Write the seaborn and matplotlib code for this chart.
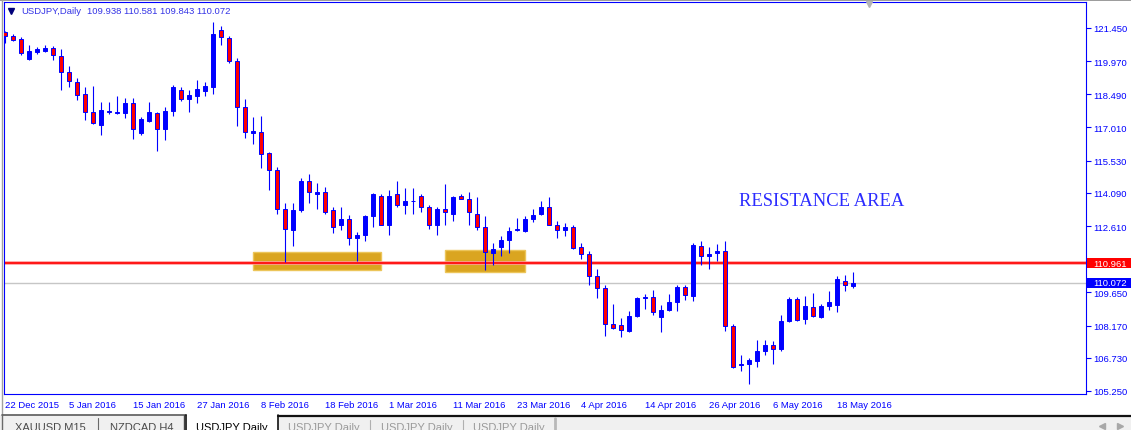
"""USDJPY daily candles, MT4 style, with resistance zone."""

import matplotlib
matplotlib.use("Agg")
import matplotlib.pyplot as plt
import matplotlib.transforms as mtransforms
from matplotlib.patches import Rectangle
import numpy as np
import pandas as pd
import seaborn as sns

# --- data ----------------------------------------------------------------
opens = [121.27, 121.09, 120.96, 120.07, 120.38, 120.43, 120.56, 120.20, 119.49, 119.05,
         118.51, 117.71, 117.13, 117.76, 117.67, 117.67, 118.11, 116.78, 117.31, 117.67,
         116.96, 117.76, 118.69, 118.29, 118.42, 118.65, 118.82, 121.36, 121.00, 119.98,
         117.93, 116.78, 116.81, 115.89, 115.13, 113.35, 112.42, 113.31, 114.60, 114.06,
         114.15, 113.31, 112.64, 112.91, 112.10, 112.19, 113.04, 113.97, 112.68, 114.02,
         113.53, 113.71, 113.97, 113.48, 112.64, 113.35, 113.17, 113.97, 113.84, 113.13,
         112.55, 111.39, 111.66, 111.97, 112.42, 112.37, 112.91, 113.17, 113.48, 112.68,
         112.42, 112.59, 111.66, 111.35, 110.37, 109.84, 108.23, 108.19, 107.92, 108.59,
         109.39, 109.43, 108.54, 108.86, 109.21, 109.88, 109.48, 111.70, 111.26, 111.39,
         111.48, 108.14, 106.41, 106.45, 106.59, 107.03, 107.30, 107.12, 108.37, 109.35,
         108.46, 108.99, 108.54, 109.03, 109.08, 110.15, 109.938]
highs = [121.32, 121.18, 121.05, 120.69, 120.60, 120.69, 120.65, 120.52, 119.76, 119.22,
         118.82, 118.87, 118.16, 118.16, 118.42, 118.33, 118.33, 117.49, 118.16, 117.71,
         117.93, 118.91, 118.82, 118.69, 119.13, 119.05, 121.72, 121.54, 121.09, 120.11,
         118.29, 117.49, 117.53, 115.93, 115.26, 113.66, 113.62, 114.77, 114.95, 114.55,
         114.37, 113.44, 113.44, 113.09, 112.33, 113.09, 114.10, 114.06, 114.20, 114.64,
         114.33, 114.33, 114.02, 113.53, 113.48, 114.51, 113.93, 114.06, 114.15, 113.89,
         113.04, 111.84, 112.15, 112.55, 112.95, 113.04, 113.35, 113.75, 113.89, 112.82,
         112.73, 112.64, 111.84, 111.48, 110.68, 109.97, 109.12, 108.50, 108.81, 109.43,
         109.57, 109.75, 109.08, 109.57, 109.97, 109.97, 111.84, 111.93, 111.66, 111.79,
         111.93, 108.23, 106.85, 106.72, 107.52, 107.52, 107.48, 108.63, 109.43, 109.43,
         109.48, 109.61, 109.12, 109.70, 110.37, 110.41, 110.581]
lows = [120.78, 120.87, 120.25, 120.03, 120.29, 120.38, 120.03, 118.69, 118.82, 118.25,
        117.36, 117.18, 116.69, 117.62, 117.62, 117.45, 116.51, 116.69, 117.27, 115.98,
        116.47, 117.53, 118.20, 117.71, 118.11, 118.42, 118.51, 120.69, 119.89, 117.09,
        116.55, 116.29, 115.18, 114.24, 113.13, 110.99, 111.70, 113.26, 113.62, 113.39,
        113.17, 112.28, 112.42, 111.75, 111.04, 111.93, 112.59, 112.64, 112.19, 113.48,
        113.17, 113.17, 113.26, 112.46, 112.19, 112.64, 112.82, 113.80, 112.64, 112.42,
        110.64, 110.86, 111.26, 111.39, 112.37, 112.33, 112.77, 113.09, 112.64, 112.06,
        112.15, 111.57, 111.13, 109.97, 109.39, 107.70, 108.02, 107.66, 107.88, 108.54,
        108.90, 108.63, 107.88, 108.81, 108.81, 109.30, 109.26, 110.86, 110.68, 111.04,
        107.92, 106.27, 106.14, 105.56, 106.32, 106.85, 106.45, 107.03, 108.32, 108.37,
        108.23, 108.54, 108.50, 108.86, 108.77, 109.70, 109.843]
closes = [121.09, 120.92, 120.34, 120.43, 120.52, 120.56, 120.25, 119.49, 119.09, 118.47,
          117.71, 117.22, 117.80, 117.71, 117.71, 118.11, 116.96, 117.40, 117.71, 116.96,
          117.76, 118.82, 118.29, 118.47, 118.74, 118.87, 121.18, 121.05, 119.98, 117.93,
          116.81, 116.87, 115.84, 115.13, 113.35, 112.46, 113.31, 114.64, 114.11, 114.15,
          113.26, 112.59, 112.91, 112.10, 112.19, 113.04, 114.06, 112.68, 113.97, 113.53,
          113.75, 113.75, 113.44, 112.64, 113.35, 113.22, 113.89, 113.84, 113.22, 112.55,
          111.44, 111.57, 111.97, 112.37, 112.46, 112.91, 113.09, 113.44, 112.68, 112.42,
          112.59, 111.61, 111.35, 110.37, 109.84, 108.23, 108.06, 107.97, 108.59, 109.39,
          109.43, 108.77, 108.86, 109.21, 109.88, 109.52, 111.75, 111.26, 111.35, 111.48,
          108.14, 106.32, 106.45, 106.63, 107.03, 107.30, 107.12, 108.37, 109.35, 108.41,
          109.03, 108.59, 109.03, 109.21, 110.24, 109.97, 110.072]

date_labels = ["22 Dec 2015", "5 Jan 2016", "15 Jan 2016", "27 Jan 2016", "8 Feb 2016",
               "18 Feb 2016", "1 Mar 2016", "11 Mar 2016", "23 Mar 2016", "4 Apr 2016",
               "14 Apr 2016", "26 Apr 2016", "6 May 2016", "18 May 2016"]
date_bars = [0, 8, 16, 24, 32, 40, 48, 56, 64, 72, 80, 88, 96, 104]

price_ticks = [121.450, 119.970, 118.490, 117.010, 115.530, 114.090, 112.610,
               111.130, 109.650, 108.170, 106.730, 105.250]

resistance_level = 110.961
last_price = 110.072
zone_bars = [(31, 47), (55, 65)]
zone_prices = [(110.65, 111.45), (110.56, 111.54)]
header_ohlc = [109.938, 110.581, 109.843, 110.072]
tab_names = ["XAUUSD M15", "NZDCAD H4", "USDJPY Daily",
             "USDJPY Daily", "USDJPY Daily", "USDJPY Daily"]

# --- style -----------------------------------------------------------------
BLUE = "#0000ff"
RED = "#ff0000"
sns.set_theme(style="white")
plt.rcParams["font.family"] = ["Liberation Sans", "DejaVu Sans"]

W, H = 1131, 431
fig = plt.figure(figsize=(W / 100, H / 100), dpi=100)
fig.patch.set_facecolor("white")
ax = fig.add_axes([4 / W, 36 / H, 1082 / W, 392 / H])
ax.set_facecolor("white")

df = pd.DataFrame({"open": opens, "high": highs, "low": lows, "close": closes})
df["bar"] = np.arange(len(df))
up = (df["close"] >= df["open"]).to_numpy()

# zones behind everything
for (b0, b1), (p0, p1) in zip(zone_bars, zone_prices):
    ax.add_patch(Rectangle((b0, p0), b1 - b0, p1 - p0, facecolor="#daa520",
                           edgecolor="#ecc55a", lw=1.0, zorder=2))

ax.axhline(last_price, color="#c6c6c6", lw=1.0, zorder=2.2)
ax.axhline(resistance_level, color="#ff9a9a", lw=2.6, zorder=2.4)
ax.axhline(resistance_level, color=RED, lw=1.2, zorder=2.5)

# candles
ax.vlines(df["bar"], df["low"], df["high"], color=BLUE, lw=0.8, zorder=3)
body_lo = df[["open", "close"]].min(axis=1)
body_h = (df["close"] - df["open"]).abs().clip(lower=0.04)
ax.bar(df["bar"], body_h, bottom=body_lo, width=0.6,
       color=np.where(up, BLUE, RED), edgecolor=BLUE, linewidth=0.7, zorder=4)

ax.text(102.1, 113.77, "RESISTANCE AREA", family="Liberation Serif", fontsize=13.4,
        color="#2b2bff", ha="center", va="center", zorder=6)

ax.set_xlim(-0.125, 135.125)
ax.set_ylim(105.116, 122.61)

for s in ax.spines.values():
    s.set_color(BLUE)
    s.set_linewidth(0.8)

ax.yaxis.tick_right()
ax.set_yticks(price_ticks)
ax.set_yticklabels([f"{p:.3f}" for p in price_ticks])
ax.tick_params(axis="y", direction="out", length=3.5, width=0.8, color=BLUE,
               labelcolor=BLUE, labelsize=6.8, pad=1.5)
ax.set_xticks(date_bars)
ax.set_xticklabels(date_labels, ha="left")
ax.tick_params(axis="x", direction="out", length=2.5, width=0.8, color=BLUE,
               labelcolor=BLUE, labelsize=6.8, pad=1.5)
ax.grid(False)

# price flags on the right scale
blend = mtransforms.blended_transform_factory(ax.transAxes, ax.transData)
for price, col in [(resistance_level, RED), (last_price, BLUE)]:
    ax.add_patch(Rectangle((1083 / 1082, price - 0.235), 46 / 1082, 0.47,
                           transform=blend, facecolor=col, edgecolor="none",
                           clip_on=False, zorder=7))
    ax.text(1089 / 1082, price, f"{price:.3f}", transform=blend, color="white",
            fontsize=6.8, ha="left", va="center", clip_on=False, zorder=8)

# --- window chrome, in pixel coordinates -------------------------------------
ov = fig.add_axes([0, 0, 1, 1], zorder=1)
ov.set_xlim(0, W)
ov.set_ylim(H, 0)
ov.axis("off")
ov.patch.set_visible(False)

ov.plot([0, W], [0.5, 0.5], color="#8a8a8a", lw=1.2)
ov.plot([1.5, 1.5], [0, 416], color="#a0a0a0", lw=1.0)

ov.plot([11], [11.5], marker="v", color="#00007a", markersize=4.2, lw=0)
ov.text(21, 12, "USDJPY,Daily", color="#3434e6", fontsize=6.8, va="center")
ov.text(87, 12, " ".join(f"{v:.3f}" for v in header_ohlc), color="#3434e6",
        fontsize=6.8, va="center")
ov.plot([869], [4.5], marker="v", color="#b4b4b4", markersize=5, lw=0)

# tab strip
ov.add_patch(Rectangle((0, 416), W, 15, facecolor="#f0f0f0", edgecolor="none"))
tab_edges = [2, 98, 186, 278, 370, 463, 555]
ov.add_patch(Rectangle((186, 416), 92, 16, facecolor="white", edgecolor="none"))
ov.plot([2, 186], [416.5, 416.5], color="#5a5a5a", lw=1.2)
ov.plot([278, W], [417, 417], color="#111111", lw=1.6)
ov.plot([186, 186], [416, 431], color="#111111", lw=1.2)
ov.plot([278, 278], [416, 431], color="#111111", lw=1.2)
ov.plot([2, 2], [416, 431], color="#6a6a6a", lw=1.0)
ov.plot([98, 98], [419, 431], color="#6a6a6a", lw=0.8)
ov.plot([184, 184], [416, 431], color="#444444", lw=1.0)
for xe in [370, 463]:
    ov.plot([xe, xe], [421, 431], color="#b0b0b0", lw=0.8)
ov.plot([555, 555], [419, 431], color="#b8b8b8", lw=2.0)
tab_colors = ["#4a4a4a", "#4a4a4a", "#000000", "#9a9a9a", "#9a9a9a", "#9a9a9a"]
for i, name in enumerate(tab_names):
    xc = (tab_edges[i] + tab_edges[i + 1]) / 2
    ov.text(xc, 428, name, color=tab_colors[i], fontsize=8, ha="center", va="center")
ov.plot([1102], [427], marker="<", color="#a8a8a8", markersize=4, lw=0)
ov.plot([1120], [427], marker=">", color="#a8a8a8", markersize=4, lw=0)

fig.savefig("out.png", dpi=100, facecolor="white")
plt.close(fig)
